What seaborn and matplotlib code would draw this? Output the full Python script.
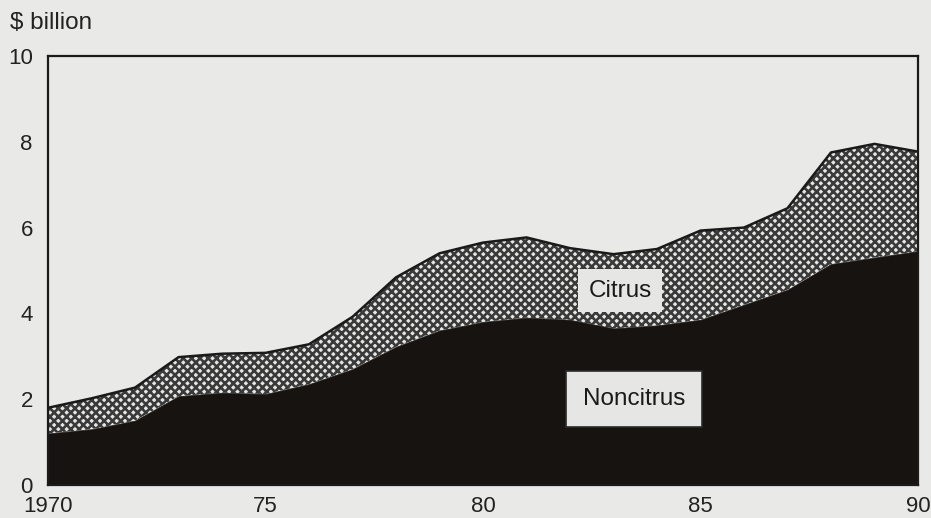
import matplotlib
matplotlib.use("Agg")
import matplotlib.pyplot as plt
import numpy as np
import pandas as pd
import seaborn as sns

# Values ($ billion)
years = [1970, 1971, 1972, 1973, 1974, 1975, 1976, 1977, 1978, 1979, 1980,
         1981, 1982, 1983, 1984, 1985, 1986, 1987, 1988, 1989, 1990]
noncitrus = [1.2, 1.3, 1.5, 2.07, 2.15, 2.12, 2.35, 2.7, 3.22, 3.6, 3.8,
             3.9, 3.85, 3.65, 3.72, 3.85, 4.2, 4.55, 5.15, 5.3, 5.45]
total = [1.8, 2.02, 2.27, 2.98, 3.06, 3.08, 3.28, 3.92, 4.84, 5.4, 5.65,
         5.77, 5.52, 5.38, 5.5, 5.93, 6.0, 6.45, 7.75, 7.95, 7.77]
x_ticks = [1970, 1975, 1980, 1985, 1990]
x_tick_labels = ["1970", "75", "80", "85", "90"]
y_ticks = [0, 2, 4, 6, 8, 10]

df = pd.DataFrame({"year": years, "noncitrus": noncitrus, "total": total})

sns.set_theme(style="white")
plt.rcParams["font.family"] = ["Liberation Sans", "DejaVu Sans"]
plt.rcParams["hatch.linewidth"] = 1.9

bg = "#e9e9e7"
fig = plt.figure(figsize=(9.31, 5.18), dpi=100, facecolor=bg)
ax = fig.add_axes([0.0516, 0.0637, 0.9344, 0.8283], facecolor=bg)

# Citrus band (crosshatch) and noncitrus (solid black)
ax.fill_between(df["year"], df["noncitrus"], df["total"], facecolor="#e6e6e4",
                edgecolor="#3a3a3a", hatch="xxxx", linewidth=0, zorder=1)
ax.fill_between(df["year"], 0, df["noncitrus"], facecolor="#161310",
                edgecolor="#161310", linewidth=0.5, zorder=2)
sns.lineplot(data=df, x="year", y="total", color="#1a1a1a", linewidth=1.8,
             ax=ax, zorder=3)

ax.set_xlim(1970, 1990)
ax.set_ylim(0, 10)
ax.set_xticks(x_ticks)
ax.set_xticklabels(x_tick_labels)
ax.set_yticks(y_ticks)
ax.set_xlabel("")
ax.set_ylabel("")
ax.tick_params(axis="both", direction="in", length=4, width=1, colors="#222222",
               labelsize=16)
ax.tick_params(axis="y", pad=11)
ax.tick_params(axis="x", pad=8)
for s in ax.spines.values():
    s.set_color("#1a1a1a")
    s.set_linewidth(1.6)

fig.text(0.011, 0.955, "$ billion", fontsize=17.5, color="#222222", va="center")

box = dict(boxstyle="square,pad=0.42", facecolor="#e6e6e4", edgecolor="none")
ax.text(1983.15, 4.53, "Citrus", fontsize=17.5, color="#1a1a1a", ha="center",
        va="center", bbox=box, zorder=5)
box2 = dict(boxstyle="square,pad=0.7", facecolor="#e6e6e4", edgecolor="#2a2a2a",
            linewidth=1.2)
ax.text(1983.47, 2.0, "Noncitrus", fontsize=17.5, color="#1a1a1a", ha="center",
        va="center", bbox=box2, zorder=5)

fig.savefig("out.png", dpi=100, facecolor=bg)
